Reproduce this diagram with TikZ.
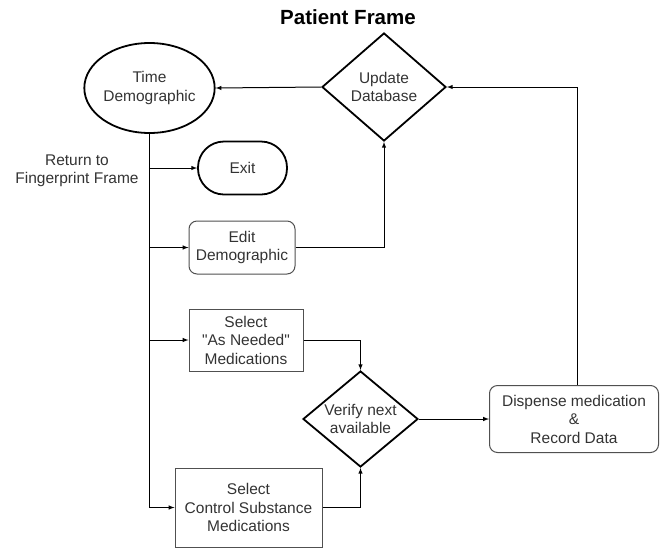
\documentclass[tikz,border=0pt]{standalone}
\usepackage{fontspec}
\setmainfont{Liberation Sans}
\usepackage{tikz}
\usetikzlibrary{shapes,arrows}
\definecolor{txtgray}{RGB}{51,51,51}
\definecolor{boxgray}{RGB}{80,80,80}

\begin{document}
\begin{tikzpicture}[x=1pt,y=-1pt,
   every node/.style={font=\fontsize{15.5}{18.5}\selectfont,text=txtgray,align=center,inner sep=0pt},
   startend/.style={ellipse,draw=black,line width=1.8pt},
   terminal/.style={rectangle,rounded corners=26pt,draw=black,line width=1.8pt},
   decision/.style={diamond,shape aspect=1.2,draw=black,line width=1.8pt},
   roundbox/.style={rectangle,rounded corners=8pt,draw=boxgray,line width=1pt},
   process/.style={rectangle,draw=boxgray,line width=1pt},
   line/.style={draw=black,line width=1pt},
   arrow/.style={line,-latex}]
   \useasboundingbox (0,0) rectangle (665,550);

   % title
   \node[font=\bfseries\fontsize{20.5}{24}\selectfont,text=black] (title) at (348,17) {Patient Frame};

   % nodes
   \node[startend,minimum width=115pt,minimum height=90pt] (td) at (149.5,88) {Time\\Demographic};
   \node[decision,minimum width=124pt,minimum height=108pt] (upd) at (384,87) {Update\\Database};
   \node (ret) at (77,171) {Return to\\Fingerprint Frame};
   \node[terminal,minimum width=89pt,minimum height=53pt] (exit) at (242.5,168) {Exit};
   \node[roundbox,minimum width=106pt,minimum height=53pt] (edit) at (242,247.5) {Edit\\Demographic};
   \node[process,minimum width=114pt,minimum height=62pt] (needed) at (246,340) {Select\\\textquotedbl As Needed\textquotedbl\\Medications};
   \node[decision,minimum width=115pt,minimum height=96pt] (verify) at (360.5,419) {Verify next\\available};
   \node[process,minimum width=147pt,minimum height=79pt] (ctrl) at (248.5,507.5) {Select\\Control Substance\\Medications};
   \node[roundbox,minimum width=169pt,minimum height=67pt] (disp) at (574,419) {Dispense medication\\\&\\Record Data};

   % connectors
   \draw[arrow] (upd.west) -- (td.east);
   \draw[arrow] ([xshift=3pt]disp.north) |- (upd.east);
   \draw[arrow] (td.south) |- (ctrl.west);
   \draw[arrow] (td.south |- exit.west) -- (exit.west);
   \draw[arrow] (td.south |- edit.west) -- (edit.west);
   \draw[arrow] (td.south |- needed.west) -- (needed.west);
   \draw[arrow] (edit.east) -| (upd.south);
   \draw[arrow] (needed.east) -| (verify.north);
   \draw[arrow] (ctrl.east) -| (verify.south);
   \draw[arrow] (verify.east) -- (disp.west);
\end{tikzpicture}
\end{document}
